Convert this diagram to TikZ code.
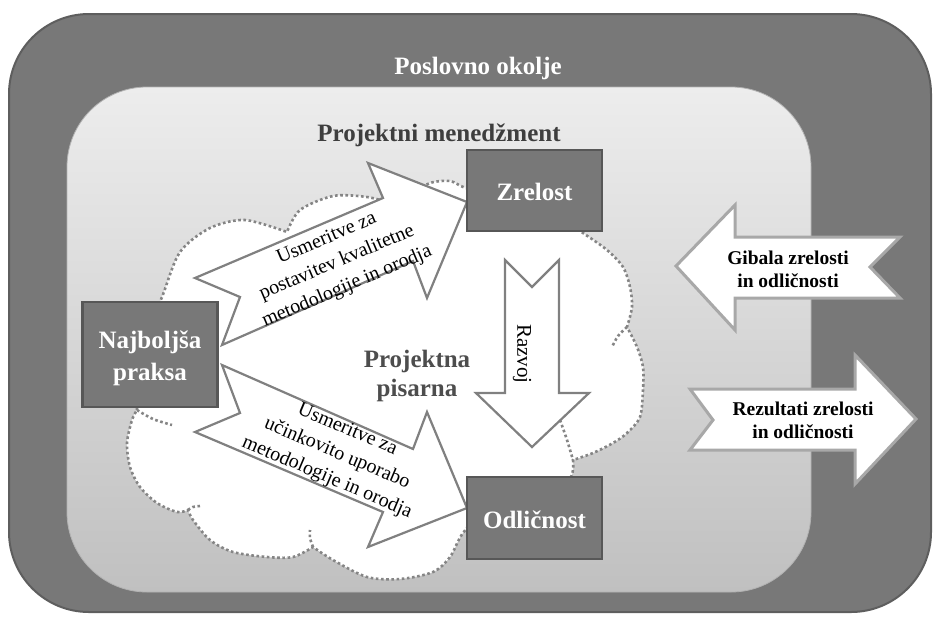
\documentclass[tikz,border=0pt]{standalone}
\usepackage{fontspec}
\setmainfont{Liberation Serif}
\definecolor{outerFill}{HTML}{787878}
\definecolor{outerEdge}{HTML}{5E5E5E}
\definecolor{innerTop}{HTML}{EDEDED}
\definecolor{innerBot}{HTML}{C0C0C0}
\definecolor{boxFill}{HTML}{787878}
\definecolor{boxEdge}{HTML}{575757}
\definecolor{arrowEdge}{HTML}{808080}
\definecolor{sideEdge}{HTML}{A8A8A8}
\definecolor{cloudDots}{HTML}{858585}
\definecolor{darkText}{HTML}{3E3E3E}
\definecolor{midText}{HTML}{4D4D4D}
\begin{document}
\begin{tikzpicture}[x=1pt,y=-1pt,line join=miter,
  bigbold/.style={font=\fontsize{25}{30}\selectfont\bfseries},
  sidebold/.style={font=\fontsize{19.5}{23}\selectfont\bfseries,text=black,align=center},
  arrowtext/.style={font=\fontsize{20}{26}\selectfont,text=black,align=center,inner sep=0pt},
  stagebox/.style={draw=boxEdge,line width=2.2pt,fill=boxFill,minimum width=135pt,inner sep=0pt},
  blockarrow/.style={draw=arrowEdge,line width=2.2pt,fill=white},
  sidearrow/.style={draw=sideEdge,line width=3pt,fill=white},
  cloudline/.style={draw=cloudDots,line width=2.6pt,dash pattern=on 2.6pt off 2.6pt}]
\useasboundingbox (0,0) rectangle (936,619);

% business environment (outer panel)
\draw[draw=outerEdge,line width=2pt,fill=outerFill,rounded corners=80pt] (9,14) rectangle (931,612);
% project management (inner panel)
\shade[top color=innerTop,bottom color=innerBot,rounded corners=80pt] (67,87) rectangle (811,592);
\draw[draw=black!30,line width=0.8pt,rounded corners=80pt] (67,87) rectangle (811,592);

\node[bigbold,text=white,anchor=base] (env) at (478,74) {Poslovno okolje};
\node[bigbold,text=darkText,anchor=base] (pm) at (439,141) {Projektni menedžment};

% project office cloud
\draw[cloudline,fill=white] (137,410)
  -- plot[smooth] coordinates {(137,410) (141,350) (162,297) (180,252) (210,228) (245,220) (287,232)}
  -- plot[smooth] coordinates {(287,232) (300,210) (333,196) (367,197) (392,204) (405,212)}
  -- plot[smooth] coordinates {(405,212) (415,193) (430,183) (450,181) (466,188) (510,200) (560,218)}
  -- plot[smooth] coordinates {(560,218) (583,233) (607,250) (623,267) (630,287) (632,307) (627,327)}
  -- plot[smooth] coordinates {(627,327) (637,347) (643,367) (643,390) (640,417) (627,433) (613,443) (593,453) (573,460)}
  -- plot[smooth] coordinates {(573,460) (570,478) (540,495) (490,505) (463,533) (450,557) (433,572) (400,579) (367,577) (333,560) (313,547)}
  -- plot[smooth] coordinates {(313,547) (293,557) (267,557) (233,552) (210,540) (193,520) (188,510)}
  -- plot[smooth] coordinates {(188,510) (177,512) (157,503) (140,487) (130,467) (127,443) (132,420) (137,410)}
  -- cycle;
\draw[cloudline] plot[smooth] coordinates {(627,327) (618,336) (612,347)};
\draw[cloudline] plot[smooth] coordinates {(560,420) (567,440) (573,460)};
\draw[cloudline] plot[smooth] coordinates {(313,547) (310,538) (310,530)};
\draw[cloudline] plot[smooth] coordinates {(188,510) (193,507) (200,506)};
\draw[cloudline] plot[smooth] coordinates {(137,410) (153,419) (172,425)};

\node[bigbold,text=midText,align=center] (office) at (417,376) {Projektna\\[-1pt]pisarna};

% development arrow
\draw[blockarrow] (505,260) -- (532,287) -- (559,260) -- (559,393) -- (589,393)
  -- (532,447) -- (476,393) -- (505,393) -- cycle;
\node[font=\fontsize{21}{25}\selectfont,rotate=-90] (dev) at (522,354) {Razvoj};

% guidance arrows from best practice
\draw[blockarrow] (195,278) -- (383,198) -- (368,163) -- (467,202) -- (427,298)
  -- (413,261) -- (222,345) -- (240,297) -- cycle;
\draw[blockarrow] (195,432) -- (383,512) -- (368,547) -- (467,508) -- (427,412)
  -- (413,449) -- (222,365) -- (240,413) -- cycle;
\node[arrowtext,rotate=23] (guideA) at (337,263) {Usmeritve za\\postavitev kvalitetne\\metodologije in orodja};
\node[arrowtext,rotate=-23] (guideB) at (337,454) {Usmeritve za\\učinkovito uporabo\\metodologije in orodja};

% stages
\node[stagebox,minimum height=105pt] (best) at (150,354.5) {};
\node[bigbold,text=white,align=center] (bestlbl) at (150,358) {Najboljša\\[2pt]praksa};
\node[stagebox,minimum height=81pt] (mat) at (534.5,190.5) {};
\node[bigbold,text=white,anchor=base] (matlbl) at (534.5,200) {Zrelost};
\node[stagebox,minimum height=82pt] (exc) at (534.5,518) {};
\node[bigbold,text=white,anchor=base] (exclbl) at (534.5,528) {Odličnost};

% drivers and results
\draw[sidearrow] (676,266) -- (735,205) -- (735,237) -- (900,237) -- (870,267)
  -- (900,298) -- (735,298) -- (735,330) -- cycle;
\node[sidebold] (drivers) at (788,269) {Gibala zrelosti\\in odličnosti};
\draw[sidearrow] (690,389) -- (855,389) -- (855,355) -- (916,419) -- (855,484)
  -- (855,450) -- (690,450) -- (713,420) -- cycle;
\node[sidebold] (results) at (803,420) {Rezultati zrelosti\\in odličnosti};
\end{tikzpicture}
\end{document}
